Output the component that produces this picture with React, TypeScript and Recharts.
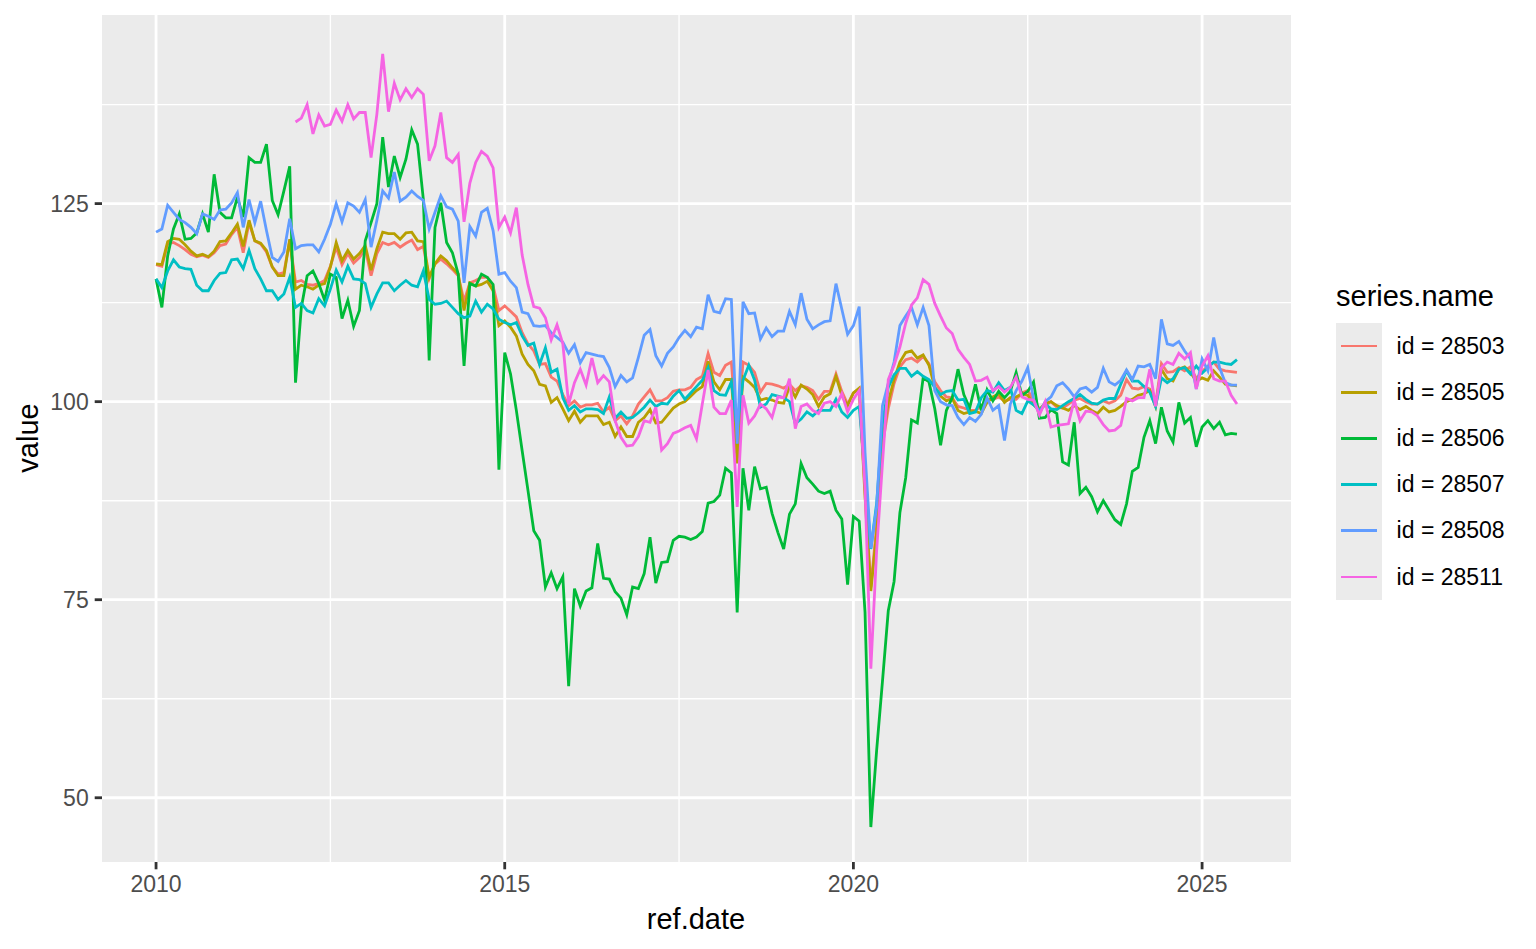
import { LineChart, Line, XAxis, YAxis, CartesianGrid } from 'recharts';

// monthly index values, Jan 2010 .. Jul 2025
const START_YEAR = 2010;

const s28503 = [
  117.3, 117.1, 119.9, 120.1, 119.7, 119.2, 118.6, 118.3, 118.5, 118.2, 118.8, 119.7,
  119.9, 121.1, 122.0, 118.8, 122.6, 120.3, 119.9, 118.9, 117.0, 116.1, 116.3, 120.3,
  115.1, 115.3, 114.8, 114.7, 114.9, 115.3, 117.1, 119.5, 117.3, 118.7, 117.5, 118.2,
  119.3, 115.9, 118.7, 120.1, 119.8, 120.1, 119.5, 120.0, 120.4, 119.2, 119.6, 115.5,
  117.4, 118.0, 117.4, 116.7, 115.9, 112.7, 115.0, 115.3, 115.7, 115.7, 114.6, 111.5,
  112.1, 111.4, 110.7, 108.7, 107.3, 106.4, 104.7, 104.8, 103.1, 102.6, 100.9, 99.5,
  100.1, 99.3, 99.6, 99.6, 99.8, 98.7, 99.3, 97.6, 98.2, 97.2, 98.2, 99.7,
  100.6, 101.5, 100.1, 100.1, 100.5, 101.3, 101.5, 101.5, 101.8, 102.8, 103.2, 106.1,
  103.7, 103.3, 104.6, 105.0, 95.3, 105.0, 104.6, 103.7, 101.2, 102.3, 102.2, 102.0,
  101.7, 102.2, 101.4, 102.0, 101.8, 101.4, 100.3, 101.3, 101.3, 103.5, 101.3, 99.7,
  101.1, 101.6, 89.0, 76.6, 84.4, 94.5, 99.1, 102.3, 104.4, 105.3, 105.5, 105.0,
  105.7, 104.8, 102.5, 101.4, 100.6, 100.5, 99.4, 99.2, 98.9, 98.9, 99.4, 100.3,
  100.3, 100.6, 100.1, 100.3, 100.3, 101.1, 101.4, 100.2, 99.1, 99.5, 100.0, 99.3,
  99.2, 99.7, 100.2, 100.4, 100.0, 99.7, 99.7, 100.1, 99.8, 100.1, 100.8, 102.8,
  101.7, 101.6, 101.9, 101.6, 99.7, 104.8, 103.7, 103.8, 104.3, 103.9, 104.4, 102.9,
  103.8, 104.5, 105.0, 104.1, 103.9, 103.8, 103.7,
];

const s28505 = [
  117.4, 117.3, 120.2, 120.6, 120.5, 119.8, 119.0, 118.4, 118.6, 118.3, 119.0, 120.2,
  120.3, 121.3, 122.4, 119.6, 122.9, 120.3, 120.0, 119.1, 117.0, 115.9, 115.9, 120.5,
  114.2, 114.7, 114.5, 114.2, 114.7, 114.9, 117.0, 120.1, 117.8, 119.1, 118.0, 118.7,
  119.7, 116.6, 119.3, 121.4, 121.2, 121.2, 120.5, 121.3, 121.4, 120.3, 120.2, 115.7,
  117.4, 118.4, 117.8, 116.9, 116.1, 111.5, 115.0, 114.6, 114.8, 115.2, 114.0, 109.6,
  110.2, 109.4, 108.3, 106.0, 104.7, 103.9, 102.2, 102.0, 99.9, 100.5, 99.1, 97.6,
  98.8, 97.4, 98.2, 98.2, 98.2, 97.1, 97.4, 95.6, 96.8, 95.6, 95.6, 97.4,
  98.0, 99.0, 97.3, 97.4, 98.3, 99.2, 99.7, 100.0, 100.7, 101.4, 101.9, 105.1,
  102.5, 101.5, 102.8, 102.8, 92.2, 103.1, 102.5, 101.8, 100.2, 100.4, 100.2, 99.9,
  99.8, 101.9, 100.6, 102.1, 101.6, 100.9, 99.4, 100.6, 101.0, 103.2, 100.8, 99.5,
  101.1, 101.7, 88.0, 76.1, 83.5, 95.0, 100.0, 102.8, 105.0, 106.2, 106.4, 105.5,
  105.9, 104.6, 101.8, 100.7, 100.1, 100.4, 98.9, 98.5, 98.7, 98.8, 98.5, 99.9,
  100.6, 101.0, 99.9, 100.5, 100.6, 101.0, 100.8, 99.6, 99.0, 99.8, 100.0, 99.5,
  99.2, 98.9, 99.5, 99.0, 99.4, 98.9, 98.5, 99.3, 98.7, 98.9, 99.4, 100.0,
  100.3, 100.8, 101.0, 101.4, 99.4, 104.1, 102.9, 102.6, 104.1, 104.4, 103.7, 102.6,
  103.0, 102.7, 103.9, 103.1, 102.2, 102.1, 102.0,
];

const s28506 = [
  115.5, 111.9, 118.4, 121.8, 123.7, 120.5, 120.6, 121.3, 123.7, 121.4, 128.7, 123.9,
  123.2, 123.2, 125.8, 123.3, 130.8, 130.2, 130.2, 132.5, 125.4, 123.6, 126.6, 129.7,
  102.4, 111.9, 115.9, 116.5, 114.9, 112.8, 116.1, 115.7, 110.5, 112.8, 109.5, 111.5,
  120.3, 122.6, 125.0, 133.4, 127.1, 131.0, 128.3, 130.6, 134.3, 132.5, 125.5, 105.2,
  122.0, 125.1, 120.1, 118.8, 116.1, 104.5, 114.9, 114.6, 116.1, 115.7, 114.8, 91.4,
  106.2, 103.5, 98.9, 93.8, 88.8, 83.7, 82.5, 76.6, 78.4, 76.4, 77.9, 64.1,
  76.4, 74.2, 76.1, 76.5, 82.1, 77.7, 77.6, 76.0, 75.2, 73.1, 76.6, 76.4,
  78.3, 82.9, 77.1, 79.7, 79.8, 82.5, 83.0, 82.9, 82.6, 82.9, 83.6, 87.2,
  87.4, 88.2, 91.6, 91.0, 73.4, 91.6, 86.3, 91.8, 89.0, 89.2, 85.9, 83.5,
  81.4, 85.8, 87.1, 92.2, 90.4, 89.6, 88.7, 88.4, 88.7, 86.3, 85.2, 76.9,
  85.5, 84.9, 73.4, 46.3, 56.0, 64.7, 73.6, 77.3, 86.0, 90.4, 97.7, 97.3,
  103.0, 102.5, 99.1, 94.5, 98.9, 100.5, 104.1, 100.9, 99.2, 102.2, 98.9, 101.5,
  100.1, 101.3, 100.5, 101.3, 103.7, 100.8, 101.3, 102.5, 97.9, 98.0, 99.0, 98.5,
  92.4, 92.0, 97.4, 88.4, 89.2, 88.0, 86.1, 87.5, 86.3, 85.1, 84.5, 87.1,
  91.2, 91.7, 95.5, 97.6, 94.7, 99.3, 96.3, 94.9, 99.9, 97.3, 98.0, 94.3,
  96.8, 97.6, 96.6, 97.4, 95.8, 96.0, 95.9,
];

const s28507 = [
  115.5, 114.4, 116.5, 117.9, 117.0, 116.8, 116.7, 114.7, 114.0, 114.0, 115.3, 116.2,
  116.3, 117.9, 118.0, 116.8, 119.1, 116.8, 115.5, 114.0, 114.0, 112.9, 113.6, 115.7,
  111.9, 112.4, 111.5, 111.2, 113.0, 112.1, 114.2, 116.6, 115.1, 117.1, 115.5, 115.4,
  114.9, 111.9, 113.6, 115.0, 115.0, 114.0, 114.7, 115.3, 114.7, 114.5, 116.5, 112.9,
  112.3, 112.4, 112.7, 111.9, 111.1, 110.6, 110.8, 112.7, 111.3, 112.3, 111.7, 110.4,
  110.0, 109.7, 110.0, 108.3, 107.1, 107.4, 104.7, 106.8, 103.7, 104.1, 100.5, 98.9,
  99.5, 98.7, 99.1, 99.1, 99.0, 98.5, 100.6, 97.9, 98.7, 97.9, 98.0, 98.6,
  99.3, 100.2, 99.4, 99.8, 99.7, 100.7, 101.4, 100.3, 101.1, 101.9, 102.7, 104.3,
  101.4, 100.9, 100.8, 102.5, 96.4, 102.7, 104.6, 102.7, 99.3, 99.7, 100.9, 100.7,
  100.5, 100.0, 97.2, 97.8, 98.7, 98.2, 98.9, 98.9, 98.9, 100.3, 98.7, 98.0,
  98.9, 99.4, 90.8, 81.4, 87.2, 97.2, 101.8, 103.4, 104.2, 104.2, 103.2, 103.8,
  103.2, 102.8, 101.8, 100.9, 101.3, 101.4, 100.2, 100.3, 98.5, 98.7, 100.5, 101.4,
  101.2, 102.4, 101.4, 101.8, 98.9, 98.5, 100.1, 99.6, 98.9, 99.7, 99.1, 99.0,
  99.5, 100.0, 100.4, 100.9, 100.3, 99.8, 99.7, 100.2, 100.4, 100.4, 102.2, 103.9,
  102.6, 102.6, 101.9, 101.2, 99.4, 103.0, 102.4, 102.9, 104.1, 104.3, 103.5, 104.5,
  103.6, 104.3, 105.0, 105.0, 104.8, 104.7, 105.3,
];

const s28508 = [
  121.4, 121.8, 124.8, 123.9, 123.0, 122.6, 122.0, 121.2, 123.7, 123.4, 123.0, 124.2,
  124.3, 125.1, 126.4, 122.0, 125.5, 122.6, 125.3, 121.6, 118.2, 117.7, 118.9, 123.1,
  119.3, 119.7, 119.8, 119.8, 118.9, 120.5, 122.4, 125.0, 122.7, 125.1, 124.7, 123.9,
  125.5, 119.5, 122.9, 126.6, 125.7, 129.0, 125.3, 125.8, 126.6, 125.9, 125.4, 121.8,
  123.9, 126.0, 124.6, 124.3, 122.8, 115.0, 122.1, 120.9, 123.9, 124.4, 121.6, 116.1,
  116.3, 115.2, 114.4, 111.3, 111.1, 109.6, 109.5, 109.6, 108.7, 108.1, 107.5, 106.1,
  107.2, 104.9, 106.2, 106.0, 105.8, 105.7, 104.3, 101.9, 103.3, 102.5, 103.0, 105.6,
  108.4, 109.1, 105.8, 104.5, 106.1, 106.9, 108.1, 109.0, 108.2, 109.4, 109.2, 113.5,
  111.4, 111.2, 113.0, 112.9, 94.7, 112.6, 111.1, 111.2, 107.9, 109.3, 108.2, 108.9,
  108.9, 111.4, 109.7, 113.7, 110.4, 109.2, 109.7, 110.1, 110.2, 114.9, 111.7, 108.5,
  109.6, 112.0, 93.6, 81.5, 86.7, 99.5, 102.3, 105.0, 109.6, 110.8, 111.9, 109.7,
  111.9, 109.6, 101.4, 100.0, 99.6, 99.5, 98.0, 97.1, 98.0, 97.5, 98.4, 100.5,
  98.9, 99.5, 95.1, 99.7, 101.4, 102.6, 104.3, 100.3, 98.5, 100.0, 100.6, 102.0,
  102.4, 101.6, 100.6, 101.6, 101.8, 101.2, 101.8, 104.2, 102.5, 102.1, 102.7, 104.0,
  102.8, 104.5, 104.4, 104.7, 102.9, 110.4, 107.3, 107.1, 107.6, 106.4, 105.4, 101.6,
  105.4, 103.9, 108.1, 104.3, 102.4, 102.1, 102.1,
];

// 28511 starts Jan 2012
const s28511Start = 24;
const s28511 = [
  135.3, 135.8, 137.5, 133.8, 136.2, 134.8, 135.0, 136.8, 135.4, 137.5, 135.7, 136.5,
  136.5, 130.8, 136.3, 143.9, 136.6, 140.2, 138.1, 139.5, 138.4, 139.5, 138.8, 130.4,
  132.3, 136.5, 130.8, 130.2, 131.2, 122.7, 127.6, 130.2, 131.6, 131.0, 129.5, 122.0,
  123.3, 121.3, 124.5, 118.5, 114.8, 112.0, 111.8, 110.6, 107.8, 109.7, 107.3, 99.7,
  102.4, 104.1, 102.1, 105.5, 102.4, 103.3, 102.5, 97.6, 95.5, 94.4, 94.5, 95.6,
  97.6, 97.4, 99.3, 93.9, 94.7, 96.0, 96.3, 96.7, 97.0, 95.3, 99.7, 104.0,
  99.3, 98.5, 98.5, 100.2, 86.7, 100.8, 97.3, 98.2, 99.7, 99.1, 98.0, 100.6,
  100.5, 102.9, 96.6, 99.4, 99.7, 98.9, 98.5, 99.8, 100.0, 99.4, 101.0, 98.7,
  100.3, 101.4, 89.0, 66.3, 81.2, 92.2, 102.8, 104.6, 106.9, 109.9, 112.2, 113.1,
  115.4, 114.8, 112.4, 110.8, 109.3, 108.6, 106.6, 105.6, 104.7, 102.6, 102.7, 103.1,
  101.4, 101.9, 101.2, 101.8, 103.1, 100.6, 100.3, 100.2, 98.3, 100.0, 96.8, 97.0,
  97.1, 97.2, 100.2, 97.6, 98.8, 98.7, 98.2, 97.1, 96.3, 96.4, 97.0, 100.4,
  100.1, 100.5, 100.5, 104.1, 99.4, 104.3, 105.0, 104.7, 106.1, 105.4, 106.2, 101.6,
  104.5, 105.8, 102.9, 102.6, 102.6, 100.8, 99.7,
];

const seriesKeys = ['s28503', 's28505', 's28506', 's28507', 's28508', 's28511'];
const seriesNames = ['id = 28503', 'id = 28505', 'id = 28506', 'id = 28507', 'id = 28508', 'id = 28511'];
const seriesColors = ['#F8766D', '#B79F00', '#00BA38', '#00BFC4', '#619CFF', '#F564E3'];

const xTicks = [2010, 2015, 2020, 2025];
const xMinor = [2012.5, 2017.5, 2022.5];
const yTicks = [50, 75, 100, 125];
const yMinor = [62.5, 87.5, 112.5, 137.5];

const data = s28503.map((v, i) => ({
  t: START_YEAR + i / 12,
  s28503: v,
  s28505: s28505[i],
  s28506: s28506[i],
  s28507: s28507[i],
  s28508: s28508[i],
  s28511: i >= s28511Start ? s28511[i - s28511Start] : null,
}));

const FONT = '"Liberation Sans", Arial, Helvetica, sans-serif';

export default function App() {
  return (
    <div style={{ position: 'absolute', left: 0, top: 0, width: 1536, height: 949, background: '#fff', fontFamily: FONT }}>
      <LineChart width={1300} height={949} data={data} margin={{ top: 15, right: 9, bottom: 0, left: 0 }}>
        <CartesianGrid fill="#EBEBEB" stroke="#FFFFFF" strokeWidth={1.4} horizontalValues={yMinor} verticalValues={xMinor} />
        <CartesianGrid stroke="#FFFFFF" strokeWidth={2.8} horizontalValues={yTicks} verticalValues={xTicks} />
        <XAxis
          type="number"
          dataKey="t"
          domain={[2009.225, 2026.275]}
          ticks={xTicks}
          allowDataOverflow
          height={87}
          axisLine={false}
          tickLine={{ stroke: '#333333', strokeWidth: 2.8 }}
          tickSize={7.3}
          tickMargin={6}
          tick={{ fill: '#4D4D4D', fontSize: 23 }}
        />
        <YAxis
          type="number"
          domain={[41.89, 148.81]}
          ticks={yTicks}
          allowDataOverflow
          width={102}
          axisLine={false}
          tickLine={{ stroke: '#333333', strokeWidth: 2.8 }}
          tickSize={7.3}
          tickMargin={6}
          tick={{ fill: '#4D4D4D', fontSize: 23 }}
        />
        {seriesKeys.map((k, i) => (
          <Line
            key={k}
            type="linear"
            dataKey={k}
            stroke={seriesColors[i]}
            strokeWidth={2.8}
            dot={false}
            activeDot={false}
            isAnimationActive={false}
          />
        ))}
      </LineChart>

      <div style={{ position: 'absolute', left: 28 - 100, top: 438 - 20, width: 200, height: 40, lineHeight: '40px', textAlign: 'center', fontSize: 29, color: '#000', transform: 'rotate(-90deg)' }}>
        value
      </div>
      <div style={{ position: 'absolute', left: 596, top: 899, width: 200, height: 40, lineHeight: '40px', textAlign: 'center', fontSize: 29, color: '#000' }}>
        ref.date
      </div>

      <div style={{ position: 'absolute', left: 1336, top: 276, height: 40, lineHeight: '40px', fontSize: 29, color: '#000', whiteSpace: 'nowrap' }}>
        series.name
      </div>
      <div style={{ position: 'absolute', left: 1336, top: 323 }}>
        {seriesNames.map((name, i) => (
          <div key={name} style={{ display: 'flex', alignItems: 'center', height: 46.2 }}>
            <div style={{ position: 'relative', width: 46, height: 46.2, background: '#EBEBEB' }}>
              <div style={{ position: 'absolute', left: 4.6, right: 4.6, top: 21.7, height: 2.8, background: seriesColors[i] }} />
            </div>
            <div style={{ marginLeft: 14.6, fontSize: 23, color: '#000', whiteSpace: 'nowrap' }}>{name}</div>
          </div>
        ))}
      </div>
    </div>
  );
}
